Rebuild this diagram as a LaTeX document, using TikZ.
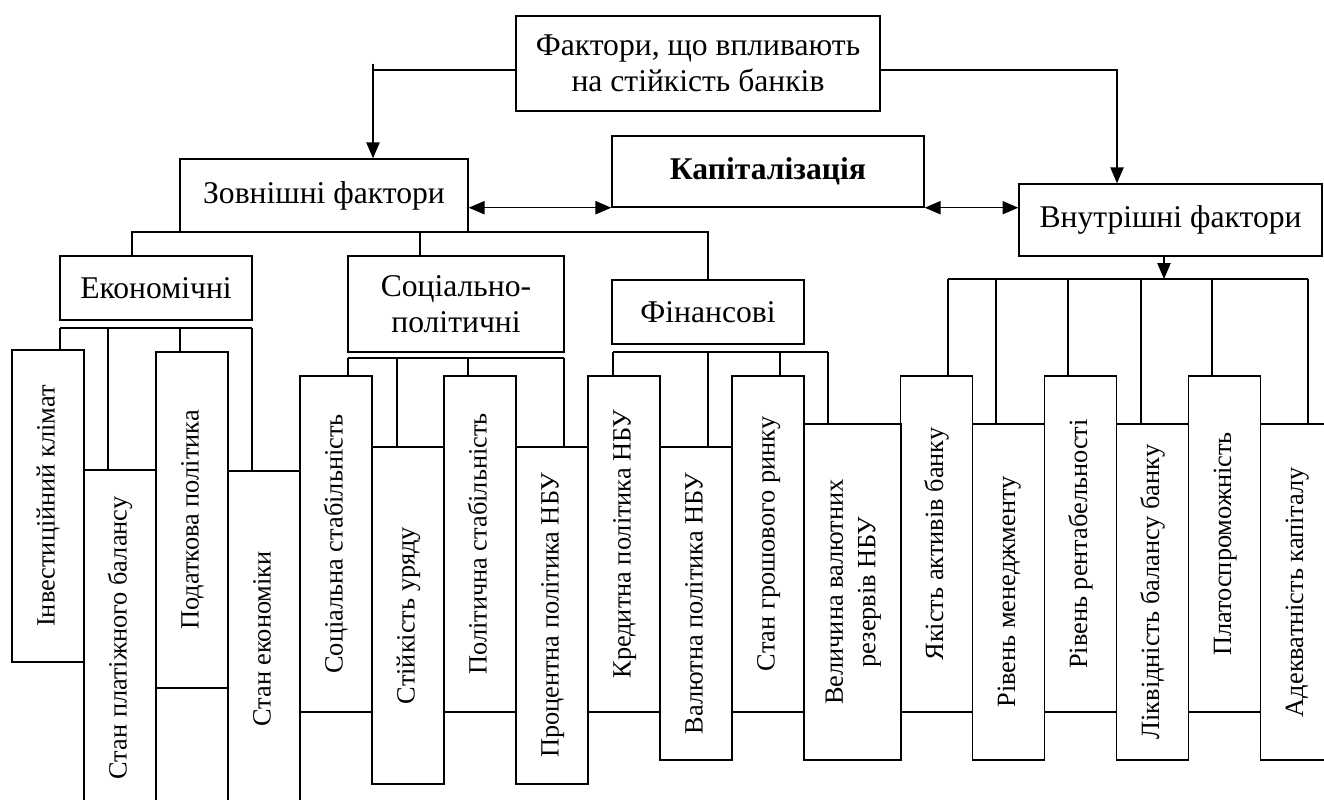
\documentclass[tikz,border=0pt]{standalone}
\usepackage{fontspec}
\setmainfont{Liberation Serif}
\usetikzlibrary{arrows.meta}

\tikzset{
  blk/.style={draw, line width=0.8pt, inner sep=0pt, align=center,
    font=\fontsize{18}{20.5}\selectfont},
  sz/.style 2 args={minimum width=#1*0.02cm, minimum height=#2*0.02cm},
  vblk/.style={blk, font=\fontsize{15}{18.5}\selectfont},
  ln/.style={line width=0.8pt},
  arr/.style={-{Triangle[length=9pt,width=7.5pt]}},
  dbl/.style={{Triangle[length=9pt,width=7.5pt]}-{Triangle[length=9pt,width=7.5pt]}}
}
\newcommand{\vt}[1]{\rotatebox{90}{\begin{tabular}{@{}c@{}}#1\end{tabular}}}

\begin{document}
\begin{tikzpicture}[x=0.02cm, y=-0.02cm]
    \useasboundingbox (0,0) rectangle (1324,800);
    \clip (0,0) rectangle (1324,800);

    % Upper levels
    \node[blk, sz={364}{95}] (fak) at (698,63.5) {Фактори, що впливають\\на стійкість банків};
    \node[blk, sz={288}{73}] (zov) at (324,195.5) {Зовнішні фактори};
    \node[blk, sz={312}{71}, font=\fontsize{18}{20.5}\selectfont\bfseries] (kap) at (768,171.5) {Капіталізація};
    \node[blk, sz={303}{72}] (vnu) at (1170.5,220) {Внутрішні фактори};

    \node[blk, sz={192}{64}] (eko) at (156,288) {Економічні};
    \node[blk, sz={216}{96}] (soc) at (456,304) {Соціально-\\політичні};
    \node[blk, sz={192}{64}] (fin) at (708,312) {Фінансові};

    % Economic factors
    \node[vblk, sz={72}{312}] (inv) at (48,506) {\vt{Інвестиційний клімат}};
    \node[vblk, sz={72}{336}] (spb) at (120,638) {\vt{Стан платіжного балансу}};
    \node[vblk, sz={72}{336}] (pod) at (192,520) {\vt{Податкова політика}};
    \node[vblk, sz={72}{336}] (sek) at (264,639) {\vt{Стан економіки}};

    % Socio-political factors
    \node[vblk, sz={72}{336}] (ss) at (336,544) {\vt{Соціальна стабільність}};
    \node[vblk, sz={72}{337}] (su) at (408,615.5) {\vt{Стійкість уряду}};
    \node[vblk, sz={72}{336}] (ps) at (480,544) {\vt{Політична стабільність}};
    \node[vblk, sz={72}{337}] (pp) at (552,615.5) {\vt{Процентна політика НБУ}};

    % Financial factors
    \node[vblk, sz={72}{336}] (kp) at (624,544) {\vt{Кредитна політика НБУ}};
    \node[vblk, sz={72}{313}] (vp) at (696,603.5) {\vt{Валютна політика НБУ}};
    \node[vblk, sz={72}{336}] (sgr) at (768,544) {\vt{Стан грошового ринку}};
    \node[vblk, sz={97}{336}] (vvr) at (852.5,592) {\vt{Величина валютних\\резервів НБУ}};

    % Internal factors
    \node[vblk, sz={72}{336}] (yab) at (936.5,544) {\vt{Якість активів банку}};
    \node[vblk, sz={72}{336}] (rm) at (1008.5,592) {\vt{Рівень менеджменту}};
    \node[vblk, sz={72}{336}] (rr) at (1080.5,544) {\vt{Рівень рентабельності}};
    \node[vblk, sz={72}{336}] (lbb) at (1152.5,592) {\vt{Ліквідність балансу банку}};
    \node[vblk, sz={72}{336}] (pl) at (1224.5,544) {\vt{Платоспроможність}};
    \node[vblk, sz={72}{336}] (ak) at (1296.5,592) {\vt{Адекватність капіталу}};

    % Connectors from the top box
    \coordinate (fl) at ([yshift=-0.13cm]fak.west);
    \coordinate (fr) at ([yshift=-0.13cm]fak.east);
    \coordinate (zk) at (373,64);
    \coordinate (vk) at (1117,70);
    \draw[ln] (fl) -- (fl -| zk);
    \draw[ln, arr] (zk) -- (zk |- zov.north);
    \draw[ln, arr] (fr) -| (vnu.north -| vk);

    \draw[ln, dbl] (zov.east |- kap.south) -- (kap.south west);
    \draw[ln, dbl] (kap.south east) -- (vnu.west |- kap.south);

    % External groups
    \coordinate (zb1) at (132,232);
    \coordinate (zb2) at (420,232);
    \draw[ln] (zb1 |- eko.north) -- (zb1) -| (fin.north);
    \draw[ln] (zb2) -- (zb2 |- soc.north);

    % Buses
    \coordinate (e1) at (60,328);
    \coordinate (e2) at (108,328);
    \coordinate (e3) at (180,328);
    \coordinate (e4) at (252,328);
    \draw[ln] (e1) -- (e4);
    \foreach \c/\n in {e1/inv, e2/spb, e3/pod, e4/sek}
        \draw[ln] (\c) -- (\c |- \n.north);

    \coordinate (s1) at (348,358);
    \coordinate (s2) at (397,358);
    \coordinate (s3) at (468,358);
    \coordinate (s4) at (564,358);
    \draw[ln] (s1) -- (s4);
    \foreach \c/\n in {s1/ss, s2/su, s3/ps, s4/pp}
        \draw[ln] (\c) -- (\c |- \n.north);

    \coordinate (f1) at (613,352);
    \coordinate (f2) at (708,352);
    \coordinate (f3) at (780,352);
    \coordinate (f4) at (828,352);
    \draw[ln] (f1) -- (f4);
    \foreach \c/\n in {f1/kp, f2/vp, f3/sgr, f4/vvr}
        \draw[ln] (\c) -- (\c |- \n.north);

    \coordinate (ib) at (1164,279);
    \draw[ln, arr] (ib |- vnu.south) -- (ib);
    \coordinate (i1) at (948,279);
    \coordinate (i2) at (996,279);
    \coordinate (i3) at (1068,279);
    \coordinate (i4) at (1141,279);
    \coordinate (i5) at (1212,279);
    \coordinate (i6) at (1308,279);
    \draw[ln] (i1) -- (i6);
    \foreach \c/\n in {i1/yab, i2/rm, i3/rr, i4/lbb, i5/pl, i6/ak}
        \draw[ln] (\c) -- (\c |- \n.north);
\end{tikzpicture}
\end{document}
